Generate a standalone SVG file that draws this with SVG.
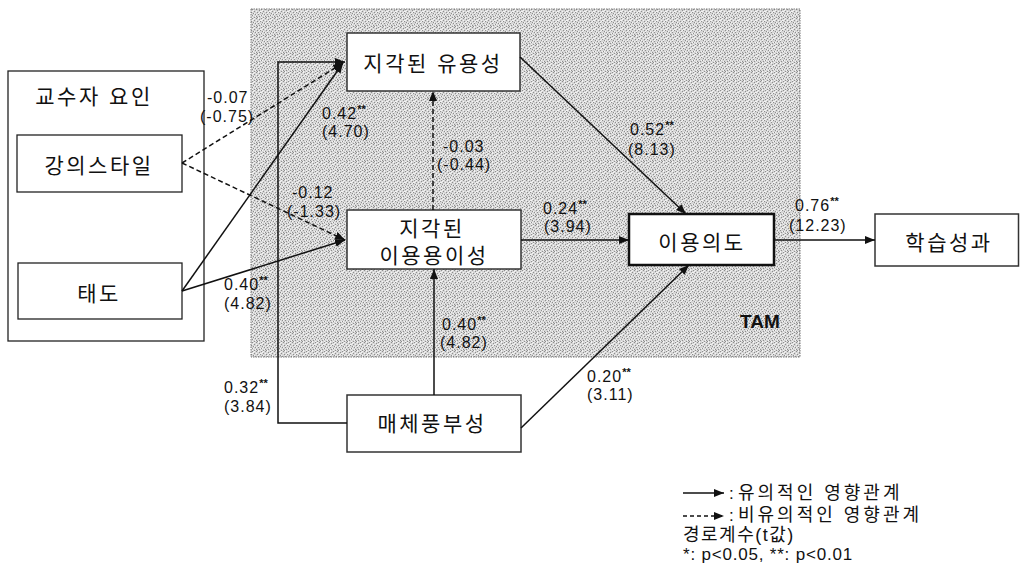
<svg xmlns="http://www.w3.org/2000/svg" width="1020" height="576" viewBox="0 0 1020 576">
<style>
.kr{font-family:"Liberation Sans","Noto Sans CJK KR",sans-serif;font-size:21px;letter-spacing:2.5px;fill:#111;text-anchor:middle}
.num{font-family:"Liberation Sans","Noto Sans CJK KR",sans-serif;font-size:16px;letter-spacing:1px;fill:#111}
.sup{font-size:11px;letter-spacing:0;font-weight:bold}
.leg{font-family:"Liberation Sans","Noto Sans CJK KR",sans-serif;font-size:18px;letter-spacing:3px;fill:#111}
.leg2{font-family:"Liberation Sans","Noto Sans CJK KR",sans-serif;font-size:17px;fill:#111}
.box{fill:#fff;stroke:#222;stroke-width:1.3}
.tbox{fill:#fff;stroke:#333;stroke-width:1.5}
.ln{fill:none;stroke:#111;stroke-width:1.5;marker-end:url(#ah)}
.dash{fill:none;stroke:#111;stroke-width:1.5;stroke-dasharray:5 3;marker-end:url(#ah)}
</style>
<defs>
<marker id="ah" markerUnits="userSpaceOnUse" markerWidth="10" markerHeight="8" refX="10" refY="4" orient="auto">
<path d="M0,0 L10,4 L0,8 z" fill="#111"/>
</marker>
<pattern id="stip" width="9" height="9" patternUnits="userSpaceOnUse">
<rect width="9" height="9" fill="#d6d6d6"/>
<path fill="#8e8e8e" d="M0 0h1v1h-1z M4 0h1v1h-1z M7 1h1v1h-1z M2 2h1v1h-1z M5 3h1v1h-1z M8 3h1v1h-1z M1 4h1v1h-1z M3 5h1v1h-1z M6 5h1v1h-1z M0 6h1v1h-1z M4 7h1v1h-1z M7 7h1v1h-1z M2 8h1v1h-1z M5 8h1v1h-1z"/>
<path fill="#f4f4f4" d="M2 0h1v1h-1z M6 0h1v1h-1z M0 2h1v1h-1z M4 2h1v1h-1z M8 2h1v1h-1z M2 4h1v1h-1z M6 4h1v1h-1z M4 5h1v1h-1z M1 6h1v1h-1z M8 6h1v1h-1z M3 7h1v1h-1z M6 8h1v1h-1z M0 8h1v1h-1z M1 1h1v1h-1z M7 3h1v1h-1z"/>
</pattern>
</defs>
<rect width="1020" height="576" fill="#fff"/>

<g id="tam">
<rect x="251" y="9" width="549" height="348" fill="url(#stip)" stroke="#777" stroke-width="1" stroke-dasharray="1.5 1"/>
<text x="740" y="328" font-family="Liberation Sans, sans-serif" font-size="19" font-weight="bold" fill="#111">TAM</text>
</g>

<g id="professor">
<rect class="box" x="8" y="71" width="196" height="270"/>
<text class="kr" x="94" y="104">교수자 요인</text>
</g>
<g id="lecture-style">
<rect class="box" x="17" y="135" width="165" height="57"/>
<text class="kr" x="99" y="173">강의스타일</text>
</g>
<g id="attitude">
<rect class="box" x="18" y="263" width="164" height="56"/>
<text class="kr" x="99" y="301">태도</text>
</g>

<g id="usefulness">
<rect class="tbox" x="347" y="33" width="173" height="58"/>
<text class="kr" x="433" y="71">지각된 유용성</text>
</g>
<g id="ease">
<rect class="tbox" x="347" y="210" width="174" height="59"/>
<text class="kr" x="432" y="236">지각된</text>
<text class="kr" x="434" y="263">이용용이성</text>
</g>
<g id="intention">
<rect x="629" y="214" width="145" height="51" fill="#fff" stroke="#111" stroke-width="2.5"/>
<text class="kr" x="702" y="250">이용의도</text>
</g>
<g id="performance">
<rect class="tbox" x="875" y="214" width="143.5" height="52"/>
<text class="kr" x="949" y="250">학습성과</text>
</g>
<g id="media">
<rect class="tbox" x="347" y="395" width="174" height="57"/>
<text class="kr" x="432" y="431">매체풍부성</text>
</g>

<g id="connectors">
<path class="dash" d="M182,163 L343,63"/>
<path class="dash" d="M182,163 L345,240"/>
<path class="ln" d="M182,291 L343,63"/>
<path class="ln" d="M182,291 L345,240"/>
<path class="ln" d="M347,423 H278 V62 H345"/>
<path class="dash" d="M433,210 V91"/>
<path class="ln" d="M434,395 V269"/>
<path class="ln" d="M521,240 H629"/>
<path class="ln" d="M520,57 L686,214"/>
<path class="ln" d="M521,428 L689,265"/>
<path class="ln" d="M774,240 H875"/>
</g>

<g id="labels">
<text class="num" x="207" y="103">-0.07</text>
<text class="num" x="200" y="122">(-0.75)</text>
<text class="num" x="322" y="119">0.42<tspan class="sup" dy="-6">**</tspan></text>
<text class="num" x="322" y="137">(4.70)</text>
<text class="num" x="443" y="152">-0.03</text>
<text class="num" x="437" y="170">(-0.44)</text>
<text class="num" x="630" y="135">0.52<tspan class="sup" dy="-6">**</tspan></text>
<text class="num" x="628" y="155">(8.13)</text>
<text class="num" x="292" y="198">-0.12</text>
<text class="num" x="287" y="217">(-1.33)</text>
<text class="num" x="224" y="290">0.40<tspan class="sup" dy="-6">**</tspan></text>
<text class="num" x="224" y="309">(4.82)</text>
<text class="num" x="543" y="214">0.24<tspan class="sup" dy="-6">**</tspan></text>
<text class="num" x="544" y="232">(3.94)</text>
<text class="num" x="442" y="330">0.40<tspan class="sup" dy="-6">**</tspan></text>
<text class="num" x="440" y="348">(4.82)</text>
<text class="num" x="587" y="382">0.20<tspan class="sup" dy="-6">**</tspan></text>
<text class="num" x="587" y="400">(3.11)</text>
<text class="num" x="224" y="393">0.32<tspan class="sup" dy="-6">**</tspan></text>
<text class="num" x="224" y="412">(3.84)</text>
<text class="num" x="795" y="211">0.76<tspan class="sup" dy="-6">**</tspan></text>
<text class="num" x="789" y="231">(12.23)</text>
</g>

<g id="legend">
<path class="ln" d="M683,493 H724"/>
<path class="dash" d="M683,516 H724" style="stroke-dasharray:4 3"/>
<text class="leg2" x="729" y="499">:</text>
<text class="leg" x="738" y="499">유의적인 영향관계</text>
<text class="leg2" x="729" y="521">:</text>
<text class="leg" x="738" y="521">비유의적인 영향관계</text>
<text class="leg2" x="683" y="541" style="font-size:18px;letter-spacing:1.5px">경로계수(t값)</text>
<text class="leg2" x="683" y="560" style="letter-spacing:0.8px">*: p&lt;0.05, **: p&lt;0.01</text>
</g>
</svg>
